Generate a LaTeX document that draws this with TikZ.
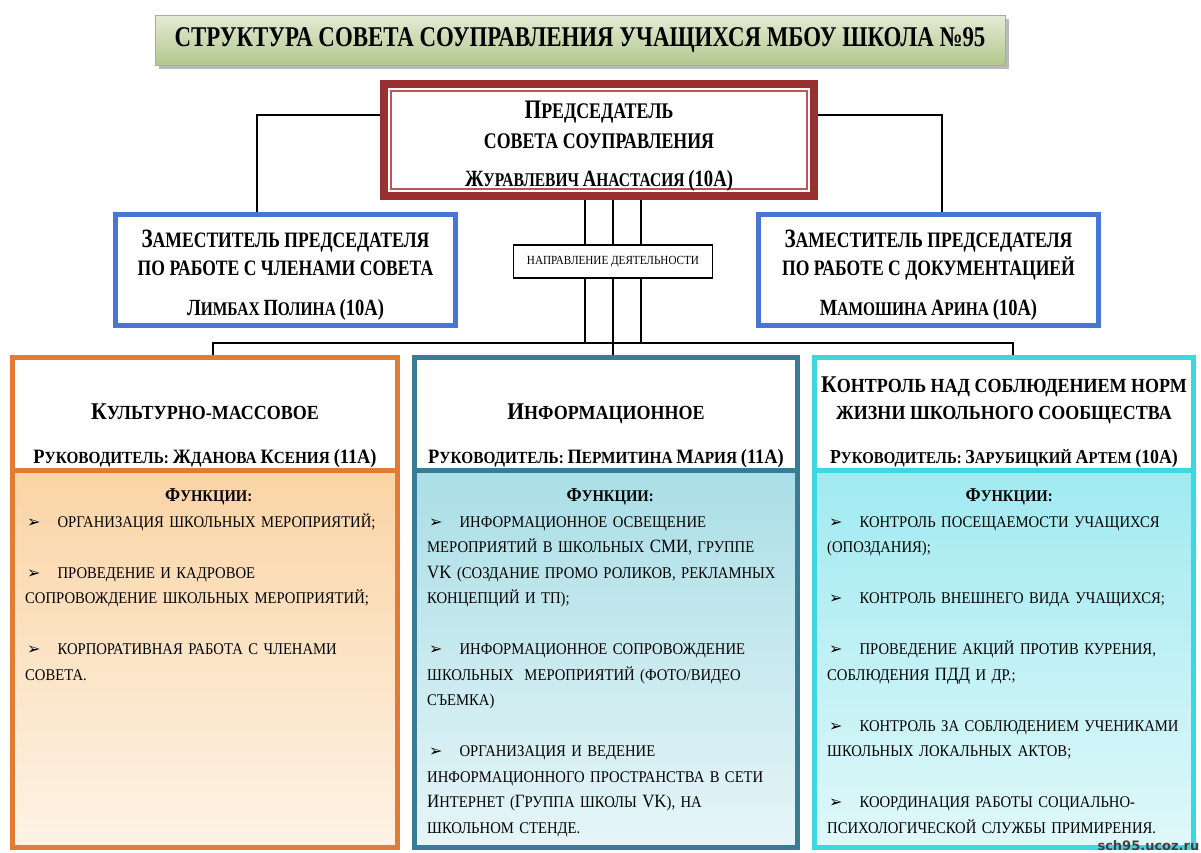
\documentclass[tikz,border=0pt]{standalone}
\usepackage{fontspec}
\setmainfont[FakeStretch=0.9]{Liberation Serif}
\newfontfamily\headfont[FakeStretch=0.8]{Liberation Serif}
\newfontfamily\symfont{DejaVu Sans}
\usetikzlibrary{positioning}
\usetikzlibrary{shadows}

\definecolor{titletop}{RGB}{228,235,212}
\definecolor{titlebot}{RGB}{178,200,142}
\definecolor{titleline}{RGB}{165,175,145}
\definecolor{chairred}{RGB}{152,48,48}
\definecolor{chairthin}{RGB}{190,85,85}
\definecolor{depblue}{RGB}{72,118,212}
\definecolor{kultline}{RGB}{226,124,52}
\definecolor{kulttop}{RGB}{250,212,165}
\definecolor{kultbot}{RGB}{253,243,230}
\definecolor{infoline}{RGB}{58,124,150}
\definecolor{infotop}{RGB}{170,222,230}
\definecolor{infobot}{RGB}{230,245,248}
\definecolor{ctrlline}{RGB}{62,214,224}
\definecolor{ctrltop}{RGB}{160,234,240}
\definecolor{ctrlbot}{RGB}{224,248,250}

\newcommand\Ini[1]{\scalebox{1.2}{#1}}
\newcommand\UpC[1]{\scalebox{1.15}{#1}}
\newcommand\itm{\hspace*{2pt}{\symfont\fontsize{16}{16}\selectfont ➢}\hspace*{17pt}}

\tikzset{
    conn/.style={line width=2pt},
    thinln/.style={line width=1.4pt},
    ttlbox/.style={draw=titleline, line width=1pt, top color=titletop, bottom color=titlebot,
        minimum width=850pt, minimum height=50pt, inner sep=0pt,
        drop shadow={shadow xshift=4pt, shadow yshift=-4pt, fill=black!45, opacity=0.6},
        font=\headfont\bfseries\fontsize{28.6}{30}\selectfont},
    chairbox/.style={draw=chairred, line width=8pt, fill=white, minimum width=430pt,
        minimum height=112pt},
    chairtxt/.style={align=center, inner sep=0pt,
        font=\headfont\bfseries\fontsize{22.3}{30}\selectfont},
    depbox/.style={draw=depblue, line width=5pt, fill=white, minimum width=340pt,
        minimum height=111pt},
    deptxt/.style={align=center, inner sep=0pt,
        font=\headfont\bfseries\fontsize{22}{28}\selectfont},
    dirbox/.style={draw, line width=1.2pt, fill=white, minimum width=199pt,
        minimum height=33pt, inner sep=0pt, font=\fontsize{12.4}{13}\selectfont},
    colhead/.style={draw=#1line, line width=5pt, fill=white, minimum height=112.5pt},
    colfunc/.style={draw=#1line, line width=5pt, top color=#1top, bottom color=#1bot,
        minimum height=377.5pt},
    headtxt/.style={anchor=south, align=center, inner sep=0pt,
        font=\bfseries\fontsize{20}{27}\selectfont},
    functxt/.style={anchor=north west, align=left, inner sep=0pt, text width=#1,
        font=\fontsize{16.3}{25.5}\selectfont}
}

\begin{document}
\begin{tikzpicture}[x=1pt,y=-1pt]
                \fill[white] (0,0) rectangle (1201,852);
                \useasboundingbox (0,0) rectangle (1201,852);

                \node[ttlbox] (ttl) at (580,40) {СТРУКТУРА СОВЕТА СОУПРАВЛЕНИЯ УЧАЩИХСЯ МБОУ ШКОЛА №95};

                \node[chairbox] (chair) at (599,140) {};
                \draw[chairthin, line width=1.5pt] ([xshift=11pt,yshift=-11pt]chair.north west)
                    rectangle ([xshift=-11pt,yshift=11pt]chair.south east);
                \node[chairtxt] (chairT) at ([yshift=-6pt]chair.center) {\Ini{П}РЕДСЕДАТЕЛЬ\\ СОВЕТА СОУПРАВЛЕНИЯ\\[8pt]
                    {\fontsize{19.4}{29}\selectfont\Ini{Ж}УРАВЛЕВИЧ \Ini{А}НАСТАСИЯ \Ini{(10А)}}};

                \node[depbox] (ldep) at (285.5,270) {};
                \node[depbox] (rdep) at (928.5,270) {};
                \node[deptxt] (ldepT) at ([yshift=-5pt]ldep.center) {\Ini{З}АМЕСТИТЕЛЬ ПРЕДСЕДАТЕЛЯ\\ ПО РАБОТЕ С ЧЛЕНАМИ СОВЕТА\\[12pt]
                    {\fontsize{19.3}{28}\selectfont\Ini{Л}ИМБАХ \Ini{П}ОЛИНА \Ini{(10А)}}};
                \node[deptxt] (rdepT) at ([yshift=-5pt]rdep.center) {\Ini{З}АМЕСТИТЕЛЬ ПРЕДСЕДАТЕЛЯ\\ ПО РАБОТЕ С ДОКУМЕНТАЦИЕЙ\\[12pt]
                    {\fontsize{19.3}{28}\selectfont\Ini{М}АМОШИНА \Ini{А}РИНА \Ini{(10А)}}};

                \node[colhead=kult, minimum width=385pt] (kult) at (205,414) {};
                \node[colhead=info, minimum width=383pt] (info) at (606,414) {};
                \node[colhead=ctrl, minimum width=379pt] (ctrl) at (1004,414) {};

                \node[colfunc=kult, minimum width=385pt, below=-5pt of kult] (kultF) {};
                \node[colfunc=info, minimum width=383pt, below=-5pt of info] (infoF) {};
                \node[colfunc=ctrl, minimum width=379pt, below=-5pt of ctrl] (ctrlF) {};

                \node[headtxt] (kultH) at ([yshift=5pt]kult.south) {\Ini{К}УЛЬТУРНО-МАССОВОЕ\\[17pt]
                    {\fontsize{17}{20}\selectfont\Ini{Р}УКОВОДИТЕЛЬ: \Ini{Ж}ДАНОВА \Ini{К}СЕНИЯ \Ini{(11А)}}};
                \node[headtxt] (infoH) at ([yshift=5pt]info.south) {\Ini{И}НФОРМАЦИОННОЕ\\[17pt]
                    {\fontsize{17}{20}\selectfont\Ini{Р}УКОВОДИТЕЛЬ: \Ini{П}ЕРМИТИНА \Ini{М}АРИЯ \Ini{(11А)}}};
                \node[headtxt] (ctrlH) at ([yshift=5pt]ctrl.south) {\Ini{К}ОНТРОЛЬ НАД СОБЛЮДЕНИЕМ НОРМ\\
                    ЖИЗНИ ШКОЛЬНОГО СООБЩЕСТВА\\[17pt]
                    {\fontsize{16.5}{20}\selectfont\Ini{Р}УКОВОДИТЕЛЬ: \Ini{З}АРУБИЦКИЙ \Ini{А}РТЕМ \Ini{(10А)}}};

                \node[functxt=367pt] (kultT) at ([xshift=15pt,yshift=-21pt]kultF.north west) {%
                    \hfill\textbf{\Ini{Ф}УНКЦИИ:}\hfill\null\\
                    \itm ОРГАНИЗАЦИЯ ШКОЛЬНЫХ МЕРОПРИЯТИЙ;\\[25.5pt]
                    \itm ПРОВЕДЕНИЕ И КАДРОВОЕ\\
                    СОПРОВОЖДЕНИЕ ШКОЛЬНЫХ МЕРОПРИЯТИЙ;\\[25.5pt]
                    \itm КОРПОРАТИВНАЯ РАБОТА С ЧЛЕНАМИ\\
                    СОВЕТА.};
                \node[functxt=366pt] (infoT) at ([xshift=15pt,yshift=-21pt]infoF.north west) {%
                    \hfill\textbf{\Ini{Ф}УНКЦИИ:}\hfill\null\\
                    \itm ИНФОРМАЦИОННОЕ ОСВЕЩЕНИЕ\\
                    МЕРОПРИЯТИЙ В ШКОЛЬНЫХ \UpC{СМИ}, ГРУППЕ\\
                    \UpC{VK} (СОЗДАНИЕ ПРОМО РОЛИКОВ, РЕКЛАМНЫХ\\
                    КОНЦЕПЦИЙ И ТП);\\[25.5pt]
                    \itm ИНФОРМАЦИОННОЕ СОПРОВОЖДЕНИЕ\\
                    ШКОЛЬНЫХ\ \ МЕРОПРИЯТИЙ (ФОТО/ВИДЕО\\
                    СЪЕМКА)\\[25.5pt]
                    \itm ОРГАНИЗАЦИЯ И ВЕДЕНИЕ\\
                    ИНФОРМАЦИОННОГО ПРОСТРАНСТВА В СЕТИ\\
                    \UpC{И}НТЕРНЕТ (\UpC{Г}РУППА ШКОЛЫ \UpC{VK}), НА\\
                    ШКОЛЬНОМ СТЕНДЕ.};
                \node[functxt=364pt] (ctrlT) at ([xshift=15pt,yshift=-21pt]ctrlF.north west) {%
                    \hfill\textbf{\Ini{Ф}УНКЦИИ:}\hfill\null\\
                    \itm КОНТРОЛЬ ПОСЕЩАЕМОСТИ УЧАЩИХСЯ\\
                    (ОПОЗДАНИЯ);\\[25.5pt]
                    \itm КОНТРОЛЬ ВНЕШНЕГО ВИДА УЧАЩИХСЯ;\\[25.5pt]
                    \itm ПРОВЕДЕНИЕ АКЦИЙ ПРОТИВ КУРЕНИЯ,\\
                    СОБЛЮДЕНИЯ \UpC{ПДД} И ДР.;\\[25.5pt]
                    \itm КОНТРОЛЬ ЗА СОБЛЮДЕНИЕМ УЧЕНИКАМИ\\
                    ШКОЛЬНЫХ ЛОКАЛЬНЫХ АКТОВ;\\[25.5pt]
                    \itm КООРДИНАЦИЯ РАБОТЫ СОЦИАЛЬНО-\\
                    ПСИХОЛОГИЧЕСКОЙ СЛУЖБЫ ПРИМИРЕНИЯ.};

                \coordinate (dirc) at (613,261.5);
                \coordinate (split) at (613,343);

                \draw[conn] ([yshift=25pt]chair.west) -| ([xshift=-28.5pt]ldep.north);
                \draw[conn] ([yshift=25pt]chair.east) -| ([xshift=13.5pt]rdep.north);
                \foreach \dx in {-28,0,28}
                    \draw[thinln] ([xshift=\dx pt]dirc |- chair.south) -- ([xshift=\dx pt]split);
                \draw[thinln] ([xshift=8pt]kult.north) |- (split) -| ([xshift=9pt]ctrl.north);
                \draw[thinln] (split) -- (split |- info.north);

                \node[dirbox] (dir) at (dirc) {НАПРАВЛЕНИЕ ДЕЯТЕЛЬНОСТИ};

                \node[anchor=south east, inner sep=0.5pt, text=black!75,
                    font=\symfont\bfseries\fontsize{13}{13}\selectfont] (wmark) at (1200,851) {sch95.ucoz.ru};
\end{tikzpicture}
\end{document}
